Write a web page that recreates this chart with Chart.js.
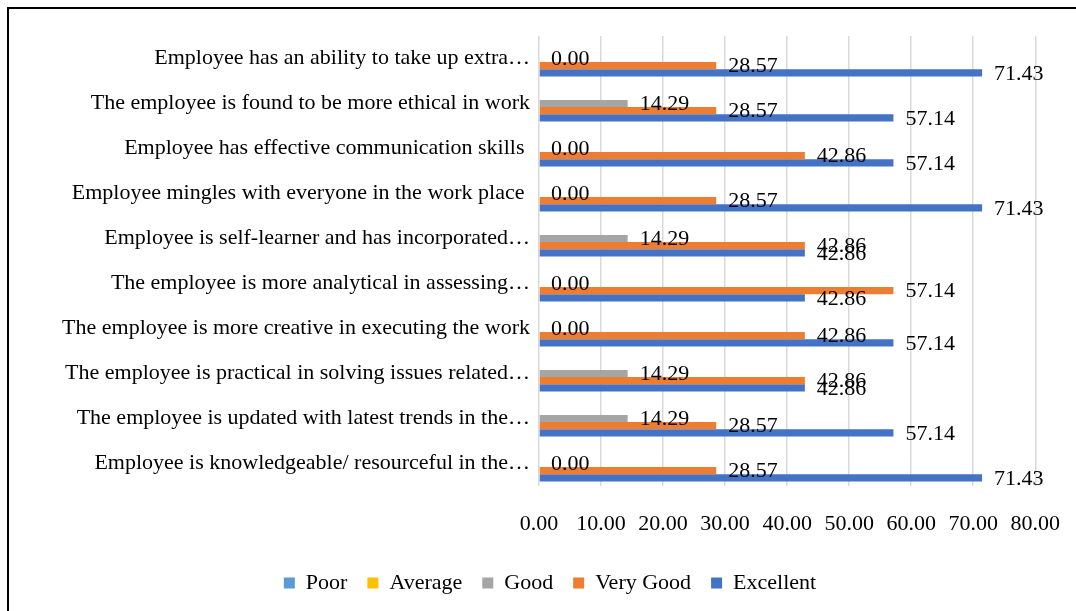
<!DOCTYPE html>
<html>
<head>
<meta charset="utf-8">
<script src="https://cdn.jsdelivr.net/npm/chart.js@4.4.0/dist/chart.umd.min.js"></script>
<style>
  html, body { margin: 0; padding: 0; background: #fff; overflow: hidden; }
  #frame { position: absolute; left: 7px; top: 7px; width: 1200px; height: 800px; border: 2px solid #000; }
  #wrap { position: absolute; left: 0; top: 0; width: 1076px; height: 611px; }
</style>
</head>
<body>
<div id="frame"></div>
<div id="wrap"><canvas id="chart"></canvas></div>
<script>
const categories = [
  "Employee has an ability to take up extra…",
  "The employee is found to be more ethical in work",
  "Employee has effective communication skills ",
  "Employee mingles with everyone in the work place ",
  "Employee is self-learner and has incorporated…",
  "The employee is more analytical in assessing…",
  "The employee is more creative in executing the work",
  "The employee is practical in solving issues related…",
  "The employee is updated with latest trends in the…",
  "Employee is knowledgeable/ resourceful in the…"
];
const poor = [null, null, null, null, null, null, null, null, null, null];
const average = [null, null, null, null, null, null, null, null, null, null];
const good = [0, 14.29, 0, 0, 14.29, 0, 0, 14.29, 14.29, 0];
const veryGood = [28.57, 28.57, 42.86, 28.57, 42.86, 57.14, 42.86, 42.86, 28.57, 28.57];
const excellent = [71.43, 57.14, 57.14, 71.43, 42.86, 42.86, 57.14, 42.86, 57.14, 71.43];
const xTicks = [0, 10, 20, 30, 40, 50, 60, 70, 80];

const FONT = "'Liberation Serif', 'Times New Roman', serif";
Chart.defaults.color = "#000";
Chart.defaults.font.family = FONT;
Chart.defaults.font.size = 22;

// Excel-like value labels just past the end of each bar
const valueLabels = {
  id: "valueLabels",
  afterDatasetsDraw(chart) {
    const ctx = chart.ctx;
    ctx.save();
    ctx.font = "22px " + FONT;
    ctx.fillStyle = "#000";
    ctx.textAlign = "left";
    ctx.textBaseline = "middle";
    chart.data.datasets.forEach((ds, i) => {
      const meta = chart.getDatasetMeta(i);
      meta.data.forEach((bar, j) => {
        const v = ds.data[j];
        if (v == null) return;
        ctx.fillText(v.toFixed(2), bar.x + 12, bar.y + 1);
      });
    });
    ctx.restore();
  }
};

new Chart(document.getElementById("chart"), {
  type: "bar",
  data: {
    labels: categories,
    datasets: [
      {label: "Poor", data: poor, backgroundColor: "#5B9BD5"},
      {label: "Average", data: average, backgroundColor: "#FFC000"},
      {label: "Good", data: good, backgroundColor: "#A5A5A5"},
      {label: "Very Good", data: veryGood, backgroundColor: "#ED7D31"},
      {label: "Excellent", data: excellent, backgroundColor: "#4472C4"}
    ]
  },
  options: {
    indexAxis: "y",
    responsive: true,
    maintainAspectRatio: false,
    animation: false,
    datasets: {bar: {categoryPercentage: 0.8, barPercentage: 1}},
    layout: {padding: {left: 24, right: 0, top: 36, bottom: 7}},
    plugins: {
      legend: {
        position: "bottom",
        labels: {boxWidth: 11, boxHeight: 11, padding: 20, font: {size: 22, family: FONT}}
      },
      tooltip: {enabled: false}
    },
    scales: {
      x: {
        min: 0, max: 80,
        afterBuildTicks: s => { s.ticks = xTicks.map(v => ({value: v})); },
        afterFit: s => { s.height = 66; },
        grid: {color: "#D9D9D9", lineWidth: 1.5, drawTicks: true, tickLength: 9, tickColor: "rgba(0,0,0,0)"},
        border: {display: false},
        ticks: {padding: 16, callback: v => Number(v).toFixed(2), maxRotation: 0}
      },
      y: {
        afterFit: s => { s.width = 515; },
        grid: {display: false, drawTicks: false},
        border: {display: false},
        ticks: {padding: 9, autoSkip: false}
      }
    }
  },
  plugins: [valueLabels]
});
</script>
</body>
</html>
